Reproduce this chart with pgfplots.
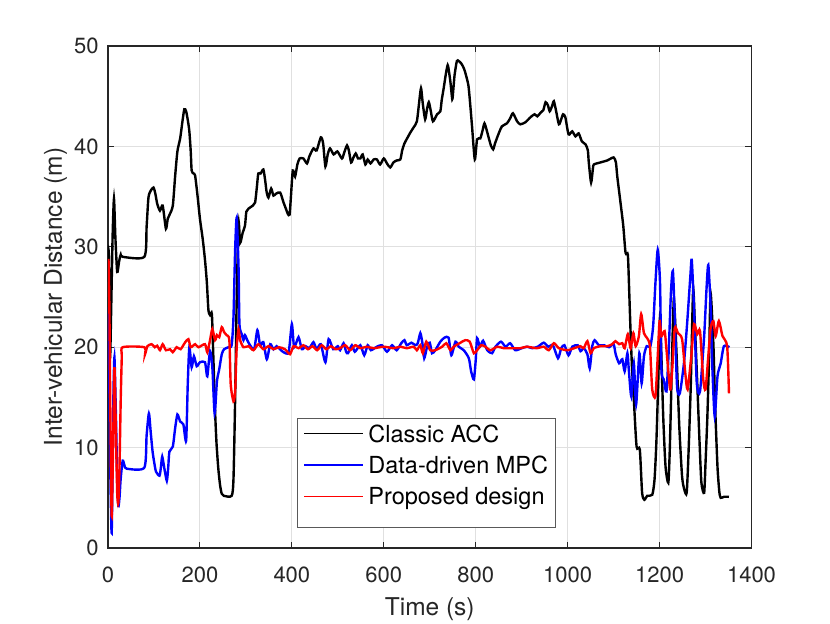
\documentclass[border=0pt]{standalone}
\usepackage{fontspec}
\setmainfont{TeX Gyre Heros}
\usepackage{pgfplots}
\pgfplotsset{compat=1.18}
\newcommand\legrule[1]{\textcolor{#1}{\rule[3.8pt]{29.5pt}{0.85pt}}\hspace{2.5pt}}
\begin{document}
\begin{tikzpicture}
\path[use as bounding box] (-54pt,-37.5pt) rectangle (361pt,274pt);
\begin{axis}[
 at={(0pt,0pt)}, anchor=south west,
 scale only axis, width=321.75pt, height=251pt,
 xmin=0, xmax=1400, ymin=0, ymax=50,
 xtick={0,200,...,1400}, ytick={0,10,...,50},
 grid=major, grid style={black!12, line width=0.5pt},
 axis line style={black!85, line width=0.55pt},
 tick style={black!85, line width=0.55pt},
 tick align=inside, major tick length=3.2pt,
 /pgf/number format/assume math mode=true,
 /pgf/number format/set thousands separator={},
 ticklabel style={font=\fontsize{11}{13}\selectfont, text=black!85},
 xticklabel style={anchor=base, yshift=-17.35pt, inner sep=0pt},
 yticklabel style={anchor=east, xshift=-4.5pt, inner sep=0pt},
 xlabel={Time (s)}, ylabel={Inter-vehicular Distance (m)},
 label style={font=\fontsize{12.25}{14}\selectfont, text=black!85},
 xlabel style={at={(axis description cs:0.5,0)}, anchor=base, yshift=-33.5pt},
 ylabel style={at={(axis description cs:-0.0715,0.5)}, anchor=base},
 legend cell align=left, reverse legend,
 legend style={at={(axis description cs:0.2937,0.0402)}, anchor=south west,
   draw=black!65, fill=white, inner xsep=3.5pt, inner ysep=3.2pt,
   row sep=7.04pt, column sep=0pt, font=\fontsize{11.75}{14}\selectfont,
   nodes={inner sep=0pt, text depth=0pt}},
 legend image code/.code={},
]
\addlegendimage{empty legend}
\addlegendentry{\mbox{}}
\addlegendimage{empty legend}
\addlegendentry{\legrule{red}Proposed design}
\addlegendimage{empty legend}
\addlegendentry{\legrule{blue}Data-driven MPC}
\addlegendimage{empty legend}
\addlegendentry{\legrule{black}Classic ACC}
\addplot[black, line width=1.2pt, smooth, tension=0.4, forget plot] coordinates {
(0,29.7)(2,29.0)(4.4,19)(7,24)(10,31)(13,34.8)(16,31)(20,27.5)(24,28.5)(27.6,29.2)(32,29.0)(79,29.0)(84,32)(88,34.9)(93,35.6)(99,35.9)(103,35.3)(107,34.3)(113,33.6)(119,34.1)(126,31.8)(130,32.8)(134,33.2)(141,34.1)(146,37)(151,39.5)(157,40.8)(162,42.5)(166,43.7)(170,43.5)(174,42.5)(177,41.5)(180,39.5)(182,37.6)(186,37.3)(189.5,37.1)(195,35)(200,32.8)(206,30.8)(211,28.7)(215,26.5)(218.5,23.7)(222,23.2)(226,23.3)(229,19.3)(233,13.6)(236,10.5)(240,7.9)(244,6.2)(247.5,5.4)(252,5.2)(269,5.2)(273,6.9)(276.5,14.6)(280,24.7)(284,32.4)(287.5,30.4)(293,31.4)(298,32.1)(301,33.5)(305.6,33.8)(315,34.1)(320,34.4)(324,36)(327,37.3)(332,37.3)(338,37.7)(342,36.6)(345,35.5)(349,34.9)(355,35.8)(360,35.1)(366,35.3)(374.6,35.4)(382,34.4)(387,33.8)(391,33.3)(395,33.2)(398,35)(402,37.6)(407,37.0)(412,38.2)(417,38.8)(425,38.8)(433,38.3)(438,39.0)(447,39.8)(454,39.6)(463,40.9)(468,40.3)(473,38.0)(478,39.2)(483,39.8)(491,39.2)(499,39.5)(509,38.8)(514,39.4)(520,40.1)(524,39.6)(529,38.4)(534,38.9)(539,39.3)(544,38.8)(549,38.8)(554,39.2)(560,38.2)(565,38.7)(571,38.3)(578,38.7)(585,38.7)(592,38.2)(600,38.8)(607,38.3)(614,37.9)(621,38.4)(628,38.6)(636,38.7)(640,39.6)(645,40.3)(652,40.9)(658,41.4)(665,41.9)(672,42.5)(677,44.4)(681,45.8)(685,44.2)(690,42.7)(694,43.7)(698,44.4)(702,43.6)(707,42.5)(716,43.2)(723,43.5)(726,44.6)(730,45.7)(735,47.2)(739,48.1)(742,47.4)(745,46.4)(749,44.7)(751,45.5)(754,47.1)(759,48.5)(763,48.5)(768,48.3)(773,47.9)(777,47.4)(784,46.1)(788,44.2)(792,42.0)(798,38.7)(803,40.7)(810,40.8)(815,41.6)(819,42.3)(824,41.6)(828,40.9)(833,40.1)(838,39.7)(842,40.3)(846,40.8)(851,41.4)(857,42.0)(868,42.3)(875,42.8)(881,43.3)(890,42.5)(897,42.2)(908,42.4)(919,42.9)(928,43.2)(934,43.0)(942,43.4)(947,43.6)(952,44.4)(957,44.1)(961,43.5)(966,44.0)(970,44.5)(975,43.5)(981,42.2)(986,42.7)(990,43.2)(995,42.9)(1002,41.2)(1010,41.5)(1017,41.0)(1024,41.3)(1031,40.5)(1039,40.2)(1044,39.6)(1046,38.4)(1051,36.4)(1055,37.8)(1057,38.2)(1071,38.4)(1086,38.6)(1100,38.9)(1105,38.4)(1108,37.0)(1115,34.4)(1121,32.1)(1126,29.4)(1131,29.2)(1134,25.5)(1137,21.4)(1140,18)(1144,14.8)(1150,10.1)(1157,9.8)(1162,5.5)(1167,4.8)(1173,5.2)(1184,5.3)(1189,6.8)(1193,10.5)(1197,16.4)(1201,23.1)(1204,19.1)(1208,13)(1213,8.1)(1219,6.5)(1222,9.5)(1225,14.8)(1228,20.5)(1231,24.8)(1234,22.5)(1238,18.1)(1243,12)(1249,7.1)(1254,5.8)(1259,5.5)(1263,9.5)(1268,16.4)(1273,25.7)(1277,22)(1282,16.4)(1287,10.5)(1291,6.5)(1297,5.5)(1300,8.5)(1304,13.1)(1308,19.5)(1311,25.4)(1317,20.4)(1321,14)(1326,8.1)(1330,5.6)(1333,5.0)(1340,5.1)(1351,5.1)
};
\addplot[blue, line width=1.2pt, smooth, tension=0.4, forget plot] coordinates {
(0,24)(2,21)(4,11.2)(6,5)(8,1.5)(10,8)(11.6,14.6)(14,19)(17.4,12.9)(20,7)(22.5,4.2)(25,5)(27.6,6.9)(32,8.7)(36,8.2)(40.7,7.9)(79,8.0)(84,11.2)(89,13.4)(93,11.5)(97,9.6)(101,8.4)(104.5,7.6)(112,7.2)(115,8)(118,9.1)(122.7,7.9)(128,6.7)(131,8)(133.6,9.6)(141,10.1)(146,11.9)(151,13.3)(157,12.6)(164,12.3)(170,10.7)(173.5,16.3)(177,20.0)(182,18.0)(187,19.1)(193,18.1)(200,18.5)(211,18.5)(216,17.1)(222,19.6)(227,18.0)(232,13.4)(237,16.6)(242,17.8)(247.5,19.3)(252.6,19.8)(262,20.0)(269,20.2)(273,23.0)(276.6,29.7)(280,32.9)(284,28.0)(286,22.3)(291,21.3)(294.7,20.7)(298,21.2)(303,20.7)(309,20.2)(318,19.8)(325,21.7)(331,20.2)(338,20.5)(345.5,18.8)(353,20.3)(360,19.8)(367,20.1)(374,19.8)(382,19.5)(393,19.5)(400,22.3)(405,20.0)(414.5,21.0)(421.7,19.8)(430,20.1)(438,19.9)(447,20.5)(454,19.8)(463,20.3)(473,18.5)(480,20.8)(490,19.8)(500,20.1)(505,19.7)(512.5,20.4)(518,19.55)(522,19.4)(530.6,20.2)(537,19.55)(549,20.2)(557.5,19.2)(565,20.2)(572,19.7)(585,20.05)(596,20.2)(607,19.55)(618,20.2)(628,19.7)(638,20.4)(645,20.7)(650,20.2)(660,20.45)(669,20.2)(674,20.4)(679.5,21.4)(684,20.4)(688,18.9)(694,20.0)(700,20.45)(705,19.4)(712,19.7)(723,20.55)(732,20.95)(741,20.95)(747,19.2)(756,20.55)(763,20.05)(774,19.7)(785,18.9)(790,17.6)(796,16.8)(800,18.7)(803,20.9)(809,20.05)(816,20.65)(825,19.7)(835.5,19.4)(843,20.05)(855,20.55)(865,20.05)(875,20.4)(886,19.7)(900,19.9)(912,20.05)(923,19.9)(935,20.05)(948,20.45)(958,20.05)(968,20.2)(979,18.9)(986,19.9)(993,20.2)(1002,19.2)(1010,20.05)(1022,20.2)(1028,19.6)(1035,19.9)(1043,19.3)(1048,17.9)(1053.5,20.1)(1058.6,20.7)(1068,20.2)(1079,20.2)(1090,20.0)(1100,20.3)(1104.5,19.3)(1112,18.4)(1119,18.8)(1124,17.6)(1130,19.4)(1133,17.8)(1138.5,15.1)(1144,18.4)(1149,14.3)(1156,19.4)(1161,16.4)(1166,19.1)(1172,20.1)(1180,20.1)(1186,22.1)(1191,26.4)(1196,29.7)(1201,26.4)(1204,17.8)(1209,16.8)(1215,15.6)(1220,19.8)(1225,25.7)(1229,27.6)(1233,23.1)(1238,16.1)(1244,15.4)(1253,18.4)(1260,22.4)(1267,27.1)(1270,28.7)(1275,23.8)(1281,16.4)(1288,15.6)(1297,21.1)(1302,25.7)(1306,28.2)(1311,24.1)(1315,17.8)(1320,13.1)(1326,17.1)(1333,18.4)(1340,20.1)(1352,20.0)
};
\addplot[red, line width=1.2pt, smooth, tension=0.4, forget plot] coordinates {
(0,25)(1,28.8)(3,24)(5,14)(8,3.2)(11,10)(14,18)(17,12)(20,5.5)(22.5,4.5)(25,8)(27.6,14.6)(30,19)(32,20)(79,20)(80.6,19.3)(85.7,20.1)(95,20.3)(102,20.0)(107,20.15)(113,19.7)(119,20.3)(126,19.7)(135,19.8)(141,19.5)(149.5,20.0)(158,19.8)(168,20.5)(175,20.8)(180,20.0)(189.5,20.3)(196.7,20.0)(211,20.3)(216,19.5)(222,20.7)(227,21.8)(233,20.7)(237,21.2)(242,21.0)(247.5,22.0)(252.6,21.5)(258,21.2)(264,20.7)(267,16.3)(273,14.6)(276.6,15.6)(280,20.0)(284,21.8)(287.5,20.7)(294.7,20.0)(305.6,20.1)(316.5,19.7)(327,20.3)(338,19.8)(349,20.1)(360,19.8)(372,20.0)(385,19.8)(396,19.3)(403.6,20.1)(415,19.9)(425,20.2)(435,19.8)(445,20.1)(455,19.7)(465,20.2)(475,19.8)(485,20.1)(495,19.8)(505,19.9)(516,20.2)(527,19.7)(538,20.2)(549,19.9)(563,20.05)(578,19.9)(600,20.05)(621,19.9)(636,20.05)(650,19.9)(665,20.05)(672,19.7)(679.5,20.2)(685,19.4)(692.5,20.55)(701,19.7)(712,19.7)(727,20.05)(736,20.4)(745,19.7)(752,20.05)(765,20.4)(777,20.7)(787,20.55)(796,19.4)(803,19.7)(812,20.2)(821,20.05)(832,19.7)(847,20.05)(861,19.9)(876,19.9)(897,19.9)(911,20.05)(933,19.9)(948,20.05)(959,19.7)(970,20.4)(981,19.9)(999,19.7)(1014,19.9)(1028,20.1)(1035,19.9)(1043,20.6)(1050,19.4)(1057,19.9)(1071,20.1)(1086,20.1)(1097,20.3)(1104,20.6)(1112,20.3)(1119,20.4)(1124,19.9)(1131,21.3)(1137,19.9)(1143,21.4)(1148,20.1)(1155,21.1)(1160,23.3)(1166,21.4)(1173,20.9)(1179,20.1)(1184,15.8)(1191,15.1)(1196,19.1)(1200,22.6)(1204,21.1)(1211,21.6)(1215,19.8)(1223,15.8)(1227.5,17.8)(1233,21.9)(1240,21.4)(1249,20.8)(1256,17.4)(1261,15.8)(1269,19.1)(1275,22.3)(1282,21.3)(1288,21.6)(1295,16.8)(1300,15.8)(1306,19.1)(1311,21.9)(1317,22.6)(1322,21.1)(1329,22.6)(1337,21.1)(1347,20.1)(1351,15.4)
};
\end{axis}
\end{tikzpicture}
\end{document}
